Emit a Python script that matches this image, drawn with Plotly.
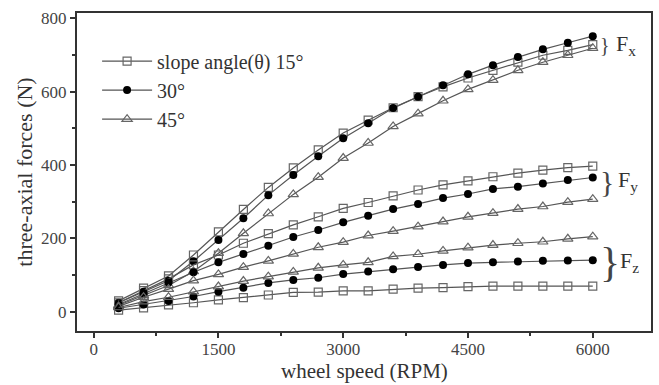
import plotly.graph_objects as go

speed = [300, 600, 900, 1200, 1500, 1800, 2100, 2400, 2700, 3000,
         3300, 3600, 3900, 4200, 4500, 4800, 5100, 5400, 5700, 6000]

fx15 = [30, 65, 98, 155, 218, 279, 339, 392, 441, 487, 522, 556, 586, 613, 637, 658, 680, 699, 712, 728]
fx30 = [25, 55, 85, 138, 196, 255, 318, 373, 424, 473, 514, 555, 586, 617, 647, 672, 694, 715, 733, 751]
fx45 = [18, 45, 72, 110, 160, 214, 268, 320, 367, 419, 460, 505, 540, 575, 606, 631, 658, 680, 699, 718]

fy15 = [25, 58, 90, 128, 155, 187, 213, 237, 259, 282, 298, 316, 332, 346, 357, 368, 378, 386, 393, 397]
fy30 = [20, 50, 80, 108, 135, 158, 180, 204, 223, 244, 262, 280, 294, 310, 321, 335, 341, 350, 359, 366]
fy45 = [15, 40, 62, 85, 102, 122, 139, 158, 176, 190, 208, 220, 232, 246, 259, 269, 280, 287, 299, 307]

fz15 = [5, 11, 19, 25, 33, 39, 46, 53, 54, 57, 57, 62, 65, 66, 69, 70, 70, 70, 70, 70]
fz30 = [10, 20, 30, 42, 55, 66, 79, 87, 93, 103, 110, 116, 122, 128, 133, 135, 137, 139, 140, 141]
fz45 = [12, 28, 40, 55, 69, 84, 96, 109, 120, 128, 135, 151, 157, 166, 175, 182, 187, 191, 199, 205]

legend_names = ["slope angle(θ) 15°", "30°", "45°"]
x_ticks = [0, 1500, 3000, 4500, 6000]
y_ticks = [0, 200, 400, 600, 800]

FONT = "Liberation Serif, Times New Roman, serif"
LINE = "#555555"

styles = [
    dict(symbol="square-open", color="#666666", size=8, line=dict(width=1.2, color="#666666")),
    dict(symbol="circle", color="#000000", size=8),
    dict(symbol="triangle-up-open", color="#666666", size=9, line=dict(width=1.2, color="#666666")),
]

groups = [
    [fx15, fx30, fx45],
    [fy15, fy30, fy45],
    [fz15, fz30, fz45],
]

fig = go.Figure()
for gi, grp in enumerate(groups):
    for si, ys in enumerate(grp):
        fig.add_trace(go.Scatter(
            x=speed, y=ys, mode="lines+markers",
            name=legend_names[si], legendgroup=str(si),
            showlegend=(gi == 0),
            line=dict(color=LINE, width=1.2),
            marker=styles[si],
        ))

# braces and labels
brace_specs = [
    (6060, 727, 20, 6260, "F<sub>x</sub>"),
    (6060, 356, 30, 6280, "F<sub>y</sub>"),
    (6060, 136, 42, 6300, "F<sub>z</sub>"),
]
for bx, by, bsize, lx, lab in brace_specs:
    fig.add_annotation(x=bx, y=by, text="}", showarrow=False, xanchor="left",
                       yanchor="middle", font=dict(family=FONT, size=bsize, color="#444444"))
    fig.add_annotation(x=lx, y=by, text=lab, showarrow=False, xanchor="left",
                       yanchor="middle", font=dict(family=FONT, size=22, color="#333333"))

# x-axis title placed at the bottom edge
fig.add_annotation(x=0.5, xref="paper", y=-54 / 318, yref="paper", yanchor="bottom",
                   text="wheel speed (RPM)", showarrow=False,
                   font=dict(family=FONT, size=21, color="#333333"))

axis_common = dict(
    showline=True, linewidth=2, linecolor="#333333", mirror=True,
    ticks="outside", ticklen=5, tickwidth=1.5, tickcolor="#333333",
    showgrid=False, zeroline=False,
    tickfont=dict(family=FONT, size=17, color="#444444"),
)

fig.update_xaxes(
    range=[-200, 6700], tickvals=x_ticks, ticktext=[str(v) for v in x_ticks],
    minor=dict(tickvals=[750, 2250, 3750, 5250], ticklen=3, tickcolor="#333333", ticks="outside"),
    automargin=False, ticklabelstandoff=-3,
    **axis_common,
)
fig.update_yaxes(
    range=[-52, 814], tickvals=y_ticks, ticktext=[str(v) for v in y_ticks],
    minor=dict(tickvals=[100, 300, 500, 700], ticklen=3, tickcolor="#333333", ticks="outside"),
    title=dict(text="three-axial forces (N)", font=dict(family=FONT, size=22, color="#333333"), standoff=2),
    automargin=False,
    **axis_common,
)

fig.update_layout(
    width=659, height=385,
    margin=dict(l=77, r=8, t=13, b=54),
    paper_bgcolor="white", plot_bgcolor="white",
    showlegend=True,
    legend=dict(x=0.035, y=0.91, xanchor="left", yanchor="top",
                bgcolor="rgba(0,0,0,0)", font=dict(family=FONT, size=20, color="#333333"),
                tracegroupgap=0, itemwidth=50),
)

fig.write_html("out.html")
